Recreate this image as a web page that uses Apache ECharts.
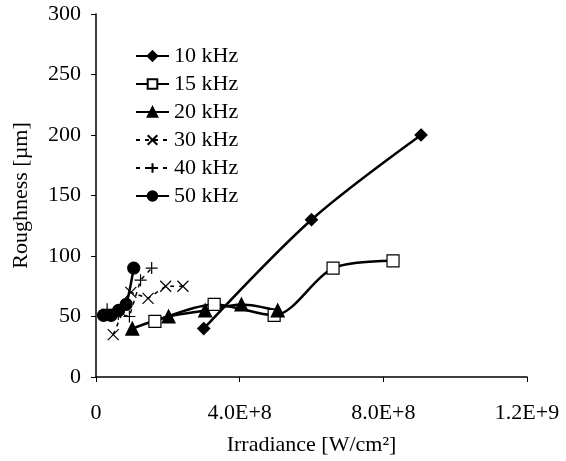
<!DOCTYPE html>
<html style="height: 100%">
<head>
    <meta charset="utf-8">
    <title>Roughness vs Irradiance</title>
    <script src="https://cdn.jsdelivr.net/npm/echarts@6/dist/echarts.min.js"></script>
</head>
<body style="height: 100%; margin: 0; background: #fff">
<div id="main" style="width: 566px; height: 461px"></div>
<script type="text/javascript">
    // irradiance [W/cm2] and roughness [um] per frequency
    var x10 = [3.0e8, 6.0e8, 9.05e8];
    var y10 = [40, 130, 200];
    var x15 = [1.64e8, 3.29e8, 4.96e8, 6.6e8, 8.27e8];
    var y15 = [46, 60, 51, 90, 96];
    var x20 = [1.01e8, 2.02e8, 3.04e8, 4.05e8, 5.06e8];
    var y20 = [40, 50, 55, 60, 55];
    var x30 = [0.48e8, 0.97e8, 1.45e8, 1.94e8, 2.42e8];
    var y30 = [35, 70, 65, 75, 75];
    var x40 = [0.31e8, 0.62e8, 0.93e8, 1.24e8, 1.55e8];
    var y40 = [56, 52, 50, 80, 90];
    var x50 = [0.21e8, 0.42e8, 0.63e8, 0.84e8, 1.05e8];
    var y50 = [51, 51, 55, 60, 90];

    var xTicks = [0, 4e8, 8e8, 1.2e9];
    var yTicks = [0, 50, 100, 150, 200, 250, 300];

    var CROSS = 'path://M0,0L10,10M10,0L0,10';
    var PLUS = 'path://M5,0L5,10M0,5L10,5';
    var FONT = '"Liberation Serif", "DejaVu Serif", serif';

    function pairs(xs, ys) {
        var res = [];
        for (var i = 0; i < xs.length; i++) {
            res.push([xs[i], ys[i]]);
        }
        return res;
    }

    function makeSeries(name, xs, ys, symbol, size, fill, dashed, smooth) {
        return {
            name: name,
            type: 'line',
            data: pairs(xs, ys),
            symbol: symbol,
            symbolSize: size,
            smooth: smooth,
            z: 3,
            lineStyle: {
                color: '#000',
                width: dashed ? 1.5 : 2.5,
                type: dashed ? [4, 5] : 'solid'
            },
            itemStyle: {
                color: fill,
                borderColor: '#000',
                borderWidth: 1.2
            }
        };
    }

    var myChart = echarts.init(document.getElementById('main'));
    var option = {
        animation: false,
        backgroundColor: '#fff',
        textStyle: { fontFamily: FONT, color: '#000' },
        grid: { left: 96, right: 39, top: 14, bottom: 82 },
        legend: {
            orient: 'vertical',
            left: 130,
            top: 40,
            itemWidth: 33,
            itemHeight: 12,
            itemGap: 6,
            textStyle: { fontFamily: FONT, fontSize: 22, color: '#000', lineHeight: 22 },
            data: ['10 kHz', '15 kHz', '20 kHz', '30 kHz', '40 kHz', '50 kHz']
        },
        xAxis: {
            type: 'value',
            min: xTicks[0],
            max: xTicks[xTicks.length - 1],
            interval: xTicks[1] - xTicks[0],
            name: 'Irradiance [W/cm²]',
            nameLocation: 'middle',
            nameGap: 57,
            nameTextStyle: { fontFamily: FONT, fontSize: 22, color: '#000' },
            axisLine: { lineStyle: { color: '#000', width: 1.5 } },
            axisTick: { lineStyle: { color: '#000' }, length: 5 },
            axisLabel: {
                fontFamily: FONT, fontSize: 22, color: '#000', margin: 25,
                formatter: function (v) {
                    return v === 0 ? '0' : v.toExponential(1).toUpperCase();
                }
            },
            splitLine: { show: false }
        },
        yAxis: {
            type: 'value',
            min: yTicks[0],
            max: yTicks[yTicks.length - 1],
            interval: yTicks[1] - yTicks[0],
            name: 'Roughness [µm]',
            nameLocation: 'middle',
            nameGap: 64,
            nameTextStyle: { fontFamily: FONT, fontSize: 22, color: '#000' },
            axisLine: { show: true, lineStyle: { color: '#000', width: 1.5 } },
            axisTick: { show: true, lineStyle: { color: '#000' }, length: 5 },
            axisLabel: { fontFamily: FONT, fontSize: 22, color: '#000', margin: 15 },
            splitLine: { show: false }
        },
        series: [
            makeSeries('10 kHz', x10, y10, 'diamond', 12, '#000', false, 0.3),
            makeSeries('15 kHz', x15, y15, 'rect', 12, '#fff', false, 0.3),
            makeSeries('20 kHz', x20, y20, 'triangle', 13, '#000', false, 0.3),
            makeSeries('30 kHz', x30, y30, CROSS, 11, '#000', true, false),
            makeSeries('40 kHz', x40, y40, PLUS, 12, '#000', true, false),
            makeSeries('50 kHz', x50, y50, 'circle', 12, '#000', false, 0.2)
        ]
    };
    myChart.setOption(option);
</script>
</body>
</html>
